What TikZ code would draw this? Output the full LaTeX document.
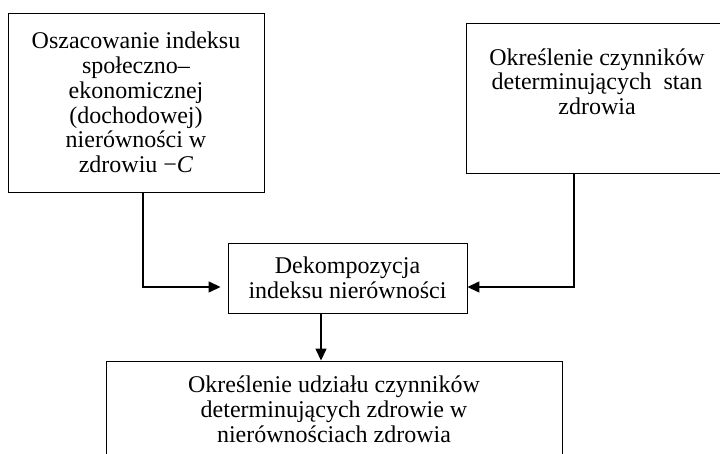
\documentclass[tikz,border=0pt]{standalone}
\usepackage{fontspec}
\setmainfont{Liberation Serif}
\usetikzlibrary{arrows.meta,calc}

\begin{document}
\begin{tikzpicture}[x=1pt, y=-1pt, >={Triangle[length=12pt,width=11pt]},
    blok/.style={draw, line width=0.9pt, align=center, inner sep=0pt,
        font=\fontsize{24}{24.8}\selectfont},
    strzalka/.style={->, line width=1.4pt}]
    % Obszar rysunku
    \useasboundingbox (0,0) rectangle (720,454);

    % Bloki
    \node[blok, minimum width=256pt, minimum height=179pt] (oszac) at (136,102.5)
        {Oszacowanie indeksu\\społeczno–\\ekonomicznej\\(dochodowej)\\nierówności w\\zdrowiu −\textit{C}};
    \node[blok, minimum width=262pt, minimum height=150pt, anchor=north] (stan) at (597,23)
        {\parbox[t][150pt][t]{262pt}{\centering\vspace*{25pt}Określenie czynników\\determinujących \ stan\\zdrowia}};
    \node[blok, minimum width=239pt, minimum height=70pt] (dekomp) at (347.5,278)
        {Dekompozycja\\indeksu nierówności};
    \node[blok, minimum width=456pt, minimum height=97pt] (udzial) at (334,409.5)
        {Określenie udziału czynników\\determinujących zdrowie w\\nierównościach zdrowia};

    % Strzałki
    \draw[strzalka, shorten >=7pt] ([xshift=7pt]oszac.south) |- ([yshift=-9pt]dekomp.west);
    \draw[strzalka] ([xshift=-23pt]stan.south) |- ([yshift=-9pt]dekomp.east);
    \draw[strzalka] ([xshift=-26.5pt]dekomp.south) -- ([xshift=-26.5pt]dekomp.south |- udzial.north);
\end{tikzpicture}
\end{document}
